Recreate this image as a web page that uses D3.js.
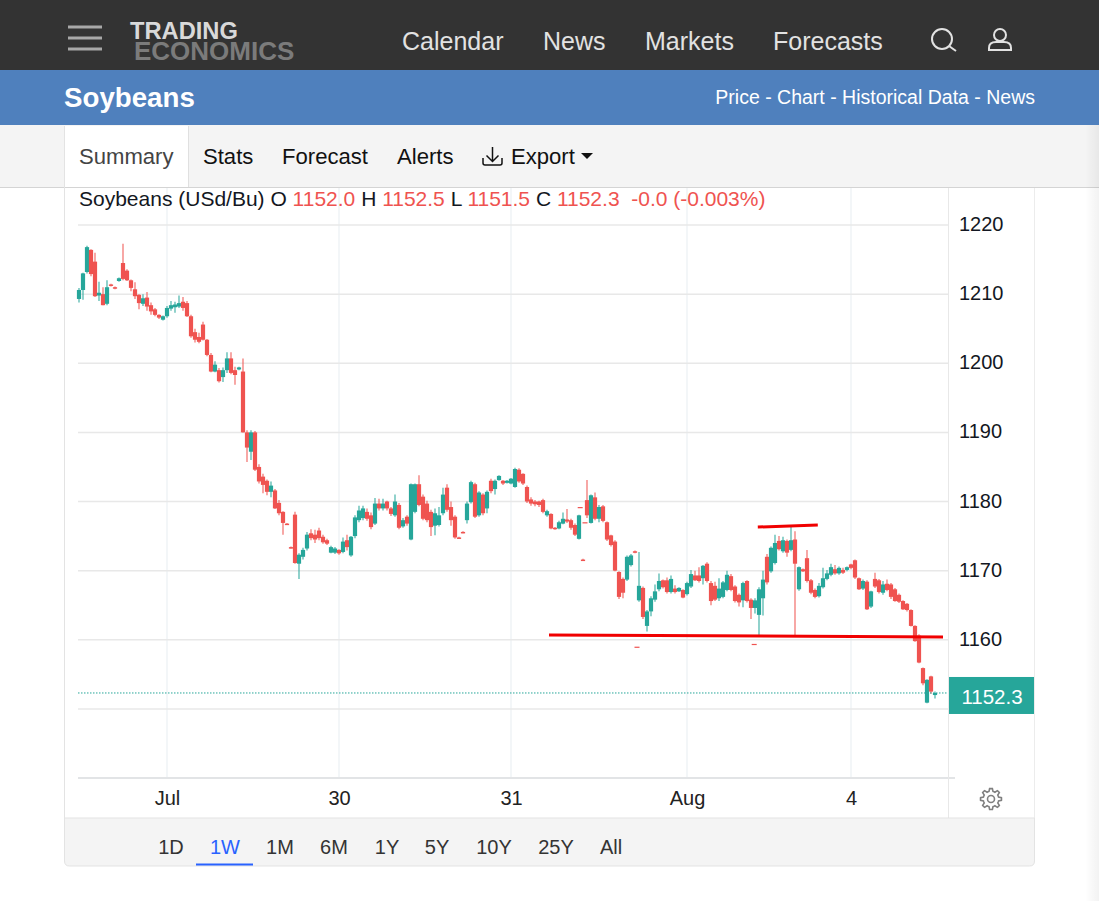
<!DOCTYPE html>
<html>
<head>
<meta charset="utf-8">
<title>Soybeans</title>
<script src="https://cdn.jsdelivr.net/npm/d3@7/dist/d3.min.js"></script>
<style>
	html, body { margin: 0; padding: 0; background: #fff; overflow: hidden; }
	svg { display: block; }
	text { font-family: "Liberation Sans", Arial, sans-serif; }
</style>
</head>
<body>
<svg id="chart" width="1099" height="901"></svg>
<script>
// Candles, one slot each, oldest first
const opens = [
	1209.3,1210.6,1213.2,1216.4,1214.7,1209.8,1210.0,1208.6,1211.4,1211.0,
	1211.9,1214.5,1213.4,1212.0,1210.7,1209.9,1208.6,1209.5,1208.4,1207.8,
	1207.0,1206.3,1206.8,1207.9,1208.1,1208.2,1208.9,1208.7,1206.8,1204.5,
	1203.8,1205.6,1203.4,1201.2,1198.8,1199.0,1198.0,1199.0,1200.7,1199.0,
	1199.1,1198.8,1190.0,1187.2,1190.0,1185.0,1183.6,1183.0,1181.4,1181.6,
	1179.8,1178.5,1176.8,1173.4,1178.1,1171.0,1172.0,1173.2,1175.4,1175.2,
	1175.8,1174.9,1174.4,1172.6,1172.6,1173.0,1172.7,1174.4,1172.2,1175.0,
	1177.3,1177.6,1178.5,1178.0,1176.8,1179.7,1179.0,1180.0,1179.0,1178.0,
	1179.5,1176.4,1177.8,1174.5,1178.5,1182.5,1180.7,1179.7,1178.5,1176.5,
	1176.6,1178.3,1182.0,1179.2,1177.8,1174.8,1175.6,1177.3,1179.9,1182.5,
	1178.0,1181.0,1179.0,1183.0,1181.8,1183.1,1183.0,1182.7,1182.6,1182.1,
	1184.6,1184.0,1182.1,1180.3,1180.0,1180.0,1180.2,1178.0,1178.2,1176.2,
	1176.1,1176.8,1177.4,1177.3,1176.6,1174.6,1171.6,1180.2,1176.9,1180.6,
	1177.5,1179.3,1177.0,1175.1,1174.2,1169.8,1168.8,1168.7,1170.8,1172.8,
	1165.7,1167.5,1162.0,1164.1,1165.8,1167.3,1168.6,1168.6,1166.9,1167.4,
	1167.0,1167.2,1166.6,1167.7,1169.3,1169.3,1168.9,1171.0,1168.2,1167.8,
	1166.0,1166.2,1167.2,1169.2,1167.7,1166.5,1165.7,1168.5,1165.8,1164.6,
	1163.6,1166.0,1172.0,1169.9,1171.1,1174.3,1172.8,1174.3,1173.0,1174.5,
	1167.3,1170.2,1171.8,1168.6,1167.2,1166.3,1167.6,1168.8,1169.4,1170.2,
	1169.6,1170.1,1170.1,1170.9,1171.5,1168.9,1167.4,1168.4,1164.8,1168.8,
	1168.6,1166.8,1168.1,1168.0,1167.3,1166.5,1165.6,1165.2,1164.3,1162.0,
	1160.6,1155.9,1150.9,1154.7,1152.0
];
const highs = [
	1210.9,1213.1,1217.0,1216.5,1216.0,1211.8,1211.0,1212.0,1211.5,1211.1,
	1212.4,1217.3,1213.6,1212.1,1211.7,1210.0,1210.0,1210.3,1208.8,1208.0,
	1207.1,1206.9,1208.3,1209.0,1208.9,1209.8,1209.6,1209.0,1207.0,1205.0,
	1204.4,1206.0,1203.5,1201.5,1200.3,1199.3,1199.4,1201.6,1201.6,1199.5,
	1199.5,1200.7,1190.3,1190.3,1190.2,1185.4,1184.0,1183.2,1182.9,1181.8,
	1180.2,1178.6,1176.9,1173.5,1178.5,1172.5,1173.3,1175.6,1176.0,1175.9,
	1176.2,1175.2,1174.6,1173.6,1173.4,1173.1,1174.8,1175.2,1175.0,1178.0,
	1179.4,1179.4,1179.0,1178.4,1180.5,1180.4,1180.4,1180.1,1179.2,1181.0,
	1179.8,1177.6,1178.0,1182.6,1182.6,1183.8,1181.0,1180.1,1178.8,1179.0,
	1179.2,1182.0,1182.5,1180.0,1178.0,1174.9,1175.7,1180.0,1183.0,1182.7,
	1181.5,1181.2,1181.6,1183.3,1183.2,1183.8,1183.1,1183.1,1183.4,1184.9,
	1184.8,1184.1,1182.3,1180.6,1180.2,1180.1,1180.4,1178.8,1178.3,1176.3,
	1177.2,1178.4,1178.9,1177.5,1176.8,1178.1,1171.7,1183.1,1181.0,1181.3,
	1179.5,1179.5,1177.1,1175.2,1174.4,1169.9,1169.0,1172.2,1172.4,1172.9,
	1172.7,1167.7,1164.3,1166.3,1168.0,1169.6,1168.7,1169.0,1169.3,1167.9,
	1167.6,1167.3,1168.4,1170.1,1170.0,1170.5,1170.8,1171.2,1168.5,1168.4,
	1168.9,1168.5,1170.0,1169.5,1167.9,1166.7,1168.4,1168.6,1166.0,1166.0,
	1167.6,1170.0,1172.4,1173.5,1175.2,1175.0,1174.9,1174.5,1176.6,1175.7,
	1170.6,1170.3,1173.0,1168.8,1167.4,1168.2,1170.4,1170.1,1171.0,1170.8,
	1170.6,1170.4,1170.6,1171.0,1171.6,1169.0,1168.7,1168.6,1167.1,1169.7,
	1168.8,1168.5,1168.7,1168.2,1167.5,1166.7,1165.7,1165.3,1164.4,1162.1,
	1160.8,1156.0,1154.3,1154.8,1152.5
];
const lows = [
	1208.8,1209.2,1213.0,1212.6,1209.6,1209.0,1208.4,1208.4,1211.1,1210.7,
	1211.8,1212.0,1211.9,1210.4,1209.3,1207.8,1208.3,1207.6,1207.0,1206.8,
	1206.4,1206.2,1206.6,1207.6,1207.3,1208.0,1207.6,1206.7,1203.7,1203.0,
	1202.9,1203.3,1201.0,1198.7,1198.7,1197.2,1197.3,1198.6,1198.4,1196.9,
	1199.0,1190.0,1185.7,1186.0,1184.4,1182.6,1181.2,1180.9,1180.6,1178.9,
	1178.0,1175.2,1176.6,1173.2,1171.0,1168.8,1171.6,1172.9,1174.4,1174.0,
	1174.4,1173.9,1173.7,1172.5,1172.4,1172.3,1172.5,1172.9,1172.0,1174.7,
	1177.0,1177.3,1177.2,1176.0,1176.6,1178.7,1178.7,1178.7,1177.9,1177.8,
	1176.0,1176.2,1176.5,1174.4,1178.3,1179.3,1177.3,1177.0,1175.0,1175.1,
	1176.4,1178.0,1178.5,1176.5,1174.6,1174.6,1175.4,1176.8,1179.7,1177.6,
	1177.8,1178.0,1178.3,1181.2,1181.0,1183.0,1182.4,1182.6,1182.5,1182.0,
	1182.7,1182.4,1179.8,1179.4,1179.3,1179.2,1178.3,1177.8,1176.0,1175.9,
	1176.0,1176.7,1176.9,1175.9,1175.0,1174.5,1171.4,1177.6,1176.8,1177.3,
	1177.0,1177.0,1174.3,1173.5,1169.9,1165.9,1166.0,1168.5,1170.6,1172.5,
	1165.5,1163.0,1161.2,1163.4,1165.5,1167.0,1167.4,1166.7,1166.7,1166.7,
	1166.9,1166.0,1166.4,1167.5,1168.5,1168.3,1168.0,1168.3,1165.0,1165.6,
	1165.6,1166.0,1167.0,1167.0,1165.4,1164.8,1164.7,1165.4,1163.0,1163.8,
	1160.7,1163.5,1168.0,1169.7,1170.9,1172.9,1172.6,1172.0,1172.8,1160.4,
	1167.1,1169.8,1168.3,1166.6,1166.0,1166.1,1167.4,1168.6,1169.2,1169.4,
	1169.4,1169.5,1169.9,1170.2,1168.8,1167.2,1167.2,1164.3,1164.6,1167.5,
	1166.7,1166.5,1167.0,1165.9,1165.5,1165.3,1164.3,1164.1,1161.9,1159.7,
	1156.6,1153.4,1150.8,1152.2,1151.5
];
const closes = [
	1210.6,1213.0,1216.8,1212.9,1209.7,1210.2,1208.4,1211.0,1211.2,1210.8,
	1212.3,1212.2,1212.0,1210.9,1209.7,1208.7,1209.4,1208.2,1207.5,1207.0,
	1206.6,1206.8,1208.0,1208.4,1208.5,1208.7,1208.0,1206.8,1203.9,1203.4,
	1203.1,1203.4,1201.2,1198.8,1199.8,1197.4,1199.0,1200.7,1198.6,1198.3,
	1199.4,1190.0,1187.8,1190.0,1184.6,1182.9,1182.4,1181.4,1182.3,1179.0,
	1178.3,1176.9,1176.7,1173.3,1171.1,1172.3,1173.0,1175.2,1174.7,1174.5,
	1174.7,1174.1,1173.9,1173.4,1173.2,1172.5,1174.2,1173.4,1174.9,1177.7,
	1178.7,1179.0,1177.5,1176.3,1179.7,1179.0,1179.7,1179.0,1178.2,1180.0,
	1176.2,1177.3,1176.8,1182.5,1182.5,1179.5,1177.5,1177.3,1176.3,1178.3,
	1178.0,1181.0,1178.8,1177.3,1174.8,1174.7,1175.5,1179.7,1182.8,1177.8,
	1181.3,1178.3,1181.4,1181.5,1183.0,1183.7,1182.6,1183.0,1183.3,1184.7,
	1182.9,1182.6,1180.0,1179.7,1179.6,1179.5,1178.5,1178.6,1176.1,1176.0,
	1177.0,1177.5,1177.1,1176.2,1175.2,1178.0,1171.5,1178.0,1180.9,1177.5,
	1179.2,1177.2,1174.5,1173.7,1170.0,1166.2,1166.8,1172.0,1172.2,1172.7,
	1167.8,1163.3,1164.1,1166.0,1167.0,1168.5,1167.6,1166.9,1168.8,1166.9,
	1167.5,1166.1,1168.2,1169.5,1168.6,1168.5,1170.7,1168.5,1165.6,1165.8,
	1167.4,1168.3,1169.4,1167.2,1165.6,1165.4,1168.2,1165.6,1164.6,1165.7,
	1167.3,1168.7,1168.3,1173.3,1174.0,1173.1,1174.4,1172.6,1174.4,1171.0,
	1170.5,1169.9,1168.5,1166.8,1166.2,1167.8,1168.9,1169.6,1170.5,1169.6,
	1170.4,1169.7,1170.5,1170.4,1169.0,1167.3,1168.5,1164.4,1167.0,1167.7,
	1166.9,1168.0,1167.2,1166.2,1165.6,1165.5,1164.4,1164.3,1162.0,1159.8,
	1156.7,1153.7,1154.2,1152.5,1152.3
];

// Lone ticks that sit away from the main run of candles
const straySlots = [125.3, 126.5, 139.5, 168.8];
const strayPrices = [1179.2, 1177.0, 1159.0, 1159.4];

const priceTicks = [1150, 1160, 1170, 1180, 1190, 1200, 1210, 1220];
const timeSlots = [22, 65, 108, 152, 193];
const timeLabels = ["Jul", "30", "31", "Aug", "4"];
const lastPrice = 1152.3;

// Hand drawn trend lines on the chart: [slot, price] at each end
const supportLine = [[117.5, 1160.7], [216, 1160.4]];
const resistanceLine = [[169.7, 1176.3], [184.7, 1176.6]];

const menuItems = ["Calendar", "News", "Markets", "Forecasts"];
const menuX = [402, 543, 645, 773];
const tabs = ["Stats", "Forecast", "Alerts", "Export"];
const tabX = [203, 282, 397, 511];
const ranges = ["1D", "1W", "1M", "6M", "1Y", "5Y", "10Y", "25Y", "All"];
const rangeX = [171, 225, 280, 334, 387, 437, 494, 556, 611];

const UP = "#26a69a";
const DOWN = "#ef5350";

const svg = d3.select("#chart");

function label(x, y, str, size, fill, opts = {}) {
	return svg
		.append("text")
		.attr("x", x)
		.attr("y", y)
		.attr("font-size", size)
		.attr("fill", fill)
		.attr("font-weight", opts.weight || "normal")
		.attr("text-anchor", opts.anchor || "start")
		.text(str);
}

// Page shell
svg.append("rect").attr("width", 1099).attr("height", 901).attr("fill", "#fff");
const edge = svg.append("defs").append("linearGradient").attr("id", "edge");
edge.append("stop").attr("offset", 0).attr("stop-color", "#000").attr("stop-opacity", 0);
edge.append("stop").attr("offset", 1).attr("stop-color", "#000").attr("stop-opacity", 0.05);

svg.append("rect").attr("width", 1099).attr("height", 70).attr("fill", "#333333");
svg.append("rect").attr("y", 70).attr("width", 1099).attr("height", 55).attr("fill", "#4f80bd");
svg.append("rect").attr("y", 125).attr("width", 1099).attr("height", 62).attr("fill", "#f4f4f4");
svg.append("rect").attr("x", 65).attr("y", 126).attr("width", 123).attr("height", 62).attr("fill", "#fff");
svg.append("line").attr("x1", 0).attr("x2", 1099).attr("y1", 187.5).attr("y2", 187.5).attr("stroke", "#d4d4d4");
svg.append("line").attr("x1", 64.5).attr("x2", 64.5).attr("y1", 126).attr("y2", 860).attr("stroke", "#e3e3e3");
svg.append("line").attr("x1", 188.5).attr("x2", 188.5).attr("y1", 126).attr("y2", 187).attr("stroke", "#e0e0e0");
svg.append("line").attr("x1", 1034.5).attr("x2", 1034.5).attr("y1", 188).attr("y2", 860).attr("stroke", "#ececec");

// Top menu
[27, 38, 49].forEach((y) =>
	svg.append("line").attr("x1", 68).attr("x2", 102).attr("y1", y).attr("y2", y)
		.attr("stroke", "#a8a8a8").attr("stroke-width", 3)
);
label(130, 38.5, "TRADING", 23.7, "#d9d9d9", { weight: "bold" });
label(134, 60, "ECONOMICS", 26, "#7b7b7b", { weight: "bold" });
menuItems.forEach((d, i) => label(menuX[i], 50, d, 25, "#e2e2e2"));

const icons = svg.append("g").attr("fill", "none").attr("stroke", "#e2e2e2").attr("stroke-width", 2);
icons.append("circle").attr("cx", 942).attr("cy", 39).attr("r", 10);
icons.append("line").attr("x1", 949).attr("y1", 46).attr("x2", 956).attr("y2", 51);
icons.append("circle").attr("cx", 1000).attr("cy", 35).attr("r", 6);
icons.append("path").attr("d", "M989,50 v-2 q0,-6 7,-6 h8 q7,0 7,6 v2 z");

// Blue title bar
label(64, 107, "Soybeans", 27.7, "#fff", { weight: "bold" });
label(1035, 104, "Price - Chart - Historical Data - News", 19.5, "#fff", { anchor: "end" });

// Tabs
label(79, 164, "Summary", 22.1, "#444");
tabs.forEach((d, i) => label(tabX[i], 164, d, 22.1, "#111"));
svg.append("path").attr("d", "M492.5,147 v14 M486.5,155.5 l6,6 l6,-6 M483,158 v5 q0,2 2,2 h15 q2,0 2,-2 v-5")
	.attr("fill", "none").attr("stroke", "#111").attr("stroke-width", 1.5);
svg.append("path").attr("d", "M581,153 h12 l-6,6 z").attr("fill", "#111");

// Scales
const x = d3.scaleLinear().domain([0, 214]).range([79, 935]);
const y = d3.scaleLinear().domain([1140, 1220]).range([778, 225]);
const plotLeft = 78;
const plotRight = 948;

// Grid
const grid = svg.append("g");
grid.selectAll("line.v").data(timeSlots).enter().append("line")
	.attr("class", "v")
	.attr("x1", (d) => x(d)).attr("x2", (d) => x(d))
	.attr("y1", 188).attr("y2", 778)
	.attr("stroke", "#eff3f6").attr("stroke-width", 1.5);
grid.selectAll("line.h").data(priceTicks).enter().append("line")
	.attr("class", "h")
	.attr("x1", plotLeft).attr("x2", plotRight)
	.attr("y1", (d) => y(d)).attr("y2", (d) => y(d))
	.attr("stroke", "#e8e8e8").attr("stroke-width", 1.5);
svg.append("line").attr("x1", plotLeft).attr("x2", 955).attr("y1", 778).attr("y2", 778)
	.attr("stroke", "#e2e4e6").attr("stroke-width", 2);
svg.append("line").attr("x1", plotRight + 0.5).attr("x2", plotRight + 0.5).attr("y1", 188).attr("y2", 818)
	.attr("stroke", "#e8e8e8");

// Axes (the 1150 label sits behind the last price box, so it is left blank)
const axisY = svg.append("g")
	.attr("transform", `translate(${plotRight + 11},0)`)
	.call(
		d3.axisRight(y).tickValues(priceTicks).tickSize(0).tickPadding(0)
			.tickFormat((d) => (d === 1150 ? "" : d3.format("d")(d)))
	);
axisY.select(".domain").remove();
axisY.selectAll("text").attr("font-size", 20).attr("fill", "#131722").attr("dy", "0.28em")
	.attr("font-family", '"Liberation Sans", Arial, sans-serif');

const axisX = svg.append("g")
	.attr("transform", "translate(0,791)")
	.call(
		d3.axisBottom(x).tickValues(timeSlots).tickSize(0).tickPadding(0)
			.tickFormat((d, i) => timeLabels[i])
	);
axisX.select(".domain").remove();
axisX.selectAll("text").attr("font-size", 20).attr("fill", "#222")
	.attr("font-family", '"Liberation Sans", Arial, sans-serif');

// Candles
const slots = d3.range(opens.length);
const colorOf = (i) => (closes[i] >= opens[i] ? UP : DOWN);
const candles = svg.append("g");
candles.selectAll("line.wick").data(slots).enter().append("line")
	.attr("class", "wick")
	.attr("x1", (i) => x(i)).attr("x2", (i) => x(i))
	.attr("y1", (i) => y(highs[i])).attr("y2", (i) => y(lows[i]))
	.attr("stroke", colorOf).attr("stroke-width", 1.2).attr("stroke-opacity", 0.85);
candles.selectAll("rect.body").data(slots).enter().append("rect")
	.attr("class", "body")
	.attr("x", (i) => x(i) - 2.1)
	.attr("width", 4.2)
	.attr("y", (i) => Math.min(y(opens[i]), y(closes[i])))
	.attr("height", (i) => Math.max(1.5, Math.abs(y(opens[i]) - y(closes[i]))))
	.attr("fill", colorOf);
candles.selectAll("rect.stray").data(straySlots).enter().append("rect")
	.attr("class", "stray")
	.attr("x", (d) => x(d) - 2.5).attr("width", 5)
	.attr("y", (d, i) => y(strayPrices[i])).attr("height", 1.2)
	.attr("fill", DOWN);

// Trend lines
const trend = d3.line().x((d) => x(d[0])).y((d) => y(d[1]));
[supportLine, resistanceLine].forEach((d) =>
	svg.append("path").attr("d", trend(d)).attr("fill", "none")
		.attr("stroke", "#f00000").attr("stroke-width", 3)
);

// Last price marker
svg.append("line").attr("x1", plotLeft).attr("x2", plotRight)
	.attr("y1", y(lastPrice)).attr("y2", y(lastPrice))
	.attr("stroke", UP).attr("stroke-width", 1).attr("stroke-dasharray", "1.5 1.5");
svg.append("rect").attr("x", 949).attr("y", y(lastPrice) - 16).attr("width", 85).attr("height", 37).attr("fill", UP);
label(992, y(lastPrice) + 11, lastPrice.toFixed(1), 20.5, "#fff", { anchor: "middle" });

// Legend line above the plot
const legend = label(79, 206, "", 21, "#131722");
[
	["Soybeans (USd/Bu) O ", "#131722"], ["1152.0 ", DOWN], ["H ", "#131722"], ["1152.5 ", DOWN],
	["L ", "#131722"], ["1151.5 ", DOWN], ["C ", "#131722"], ["1152.3  -0.0 (-0.003%)", DOWN]
].forEach((d) => legend.append("tspan").attr("fill", d[1]).attr("xml:space", "preserve").text(d[0]));

// Settings gear
const gearPts = d3.range(0, 48).map((k) => {
	const a = (k / 48) * 2 * Math.PI;
	const r = (k + 1) % 6 < 3 ? 10.5 : 7.8;
	return [991 + r * Math.cos(a), 799 + r * Math.sin(a)];
});
svg.append("path").attr("d", d3.line().curve(d3.curveLinearClosed)(gearPts))
	.attr("fill", "none").attr("stroke", "#808080").attr("stroke-width", 1.6);
svg.append("circle").attr("cx", 991).attr("cy", 799).attr("r", 3.5)
	.attr("fill", "none").attr("stroke", "#808080").attr("stroke-width", 1.6);

// Range selector
svg.append("path").attr("d", "M64.5,818 H1034.5 V861 q0,5 -5,5 H69.5 q-5,0 -5,-5 Z")
	.attr("fill", "#f4f4f4").attr("stroke", "#e3e3e3");
ranges.forEach((d, i) =>
	label(rangeX[i], 854, d, 20, d === "1W" ? "#2962ff" : "#333", { anchor: "middle" })
);
svg.append("line").attr("x1", 196).attr("x2", 253).attr("y1", 864.5).attr("y2", 864.5)
	.attr("stroke", "#2962ff").attr("stroke-width", 2);

svg.append("rect").attr("x", 1085).attr("y", 125).attr("width", 14).attr("height", 776).attr("fill", "url(#edge)");
</script>
</body>
</html>
